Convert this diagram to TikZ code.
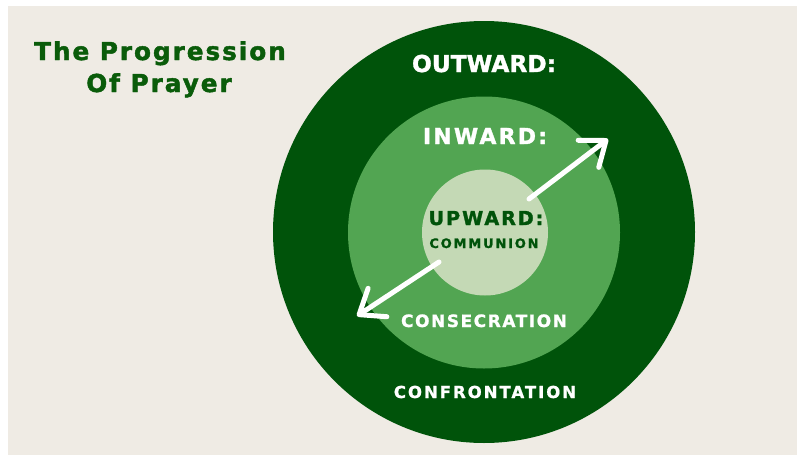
\documentclass[tikz,border=0pt]{standalone}
\usepackage{fontspec}
\setmainfont{DejaVu Sans}[BoldFeatures={FakeBold=1.5}]
\newfontfamily\titlefont{DejaVu Sans}[LetterSpace=8, BoldFeatures={FakeBold=1.8}]
\newfontfamily\capsfont{DejaVu Sans}[LetterSpace=10, BoldFeatures={FakeBold=1.5}]
\newfontfamily\smallcapsfont{DejaVu Sans}[LetterSpace=9, BoldFeatures={FakeBold=1.2}]
\newfontfamily\confrontfont{DejaVu Sans}[LetterSpace=12, BoldFeatures={FakeBold=1.2}]
\newfontfamily\widefont{DejaVu Sans}[LetterSpace=14, BoldFeatures={FakeBold=1.2}]
\usetikzlibrary{arrows.meta}
\definecolor{bg}{HTML}{EFEBE4}
\definecolor{dkgreen}{HTML}{00530A}
\definecolor{mdgreen}{HTML}{52A552}
\definecolor{ltgreen}{HTML}{C4D9B5}
\definecolor{titlegreen}{HTML}{0A5C0A}
\tikzset{
  lbl/.style={anchor=base, inner sep=0pt, text=white},
  arrowline/.style={draw=white, line width=5pt, line cap=round,
    -{Straight Barb[round, length=22pt, width=34pt]}},
}
\begin{document}
\begin{tikzpicture}[x=1pt, y=-1pt]
\useasboundingbox (0,0) rectangle (798,455);
\fill[white] (0,0) rectangle (798,455);
\fill[bg] (8,6) rectangle (797,455);
% circles
\fill[dkgreen] (484,232) circle[radius=211pt];
\fill[mdgreen] (484,232.5) circle[radius=136pt];
\fill[ltgreen] (485,232.5) circle[radius=63pt];
% title
\node[lbl, text=titlegreen, font=\titlefont\bfseries\fontsize{24.7}{30}\selectfont] (t1) at (160,60) {The Progression};
\node[lbl, text=titlegreen, font=\titlefont\bfseries\fontsize{24.7}{30}\selectfont] (t2) at (159,92) {Of Prayer};
% labels
\node[lbl, font=\bfseries\fontsize{23.3}{28}\selectfont] (out) at (484,72) {OUTWARD:};
\node[lbl, font=\capsfont\bfseries\fontsize{22}{26}\selectfont] (inw) at (485,144) {INWARD:};
\node[lbl, text=dkgreen, font=\capsfont\bfseries\fontsize{19.2}{23}\selectfont] (up) at (486,225) {UPWARD:};
\node[lbl, text=dkgreen, font=\widefont\bfseries\fontsize{13}{15}\selectfont] (comm) at (484,248) {COMMUNION};
\node[lbl, font=\smallcapsfont\bfseries\fontsize{17}{20}\selectfont] (cons) at (484,327) {CONSECRATION};
\node[lbl, font=\confrontfont\bfseries\fontsize{16.5}{20}\selectfont] (conf) at (485,398) {CONFRONTATION};
% arrows
\coordinate (a1s) at (529,199);
\coordinate (a1t) at (608,139);
\coordinate (a2s) at (439,262);
\coordinate (a2t) at (357,316);
\draw[arrowline] (a1s) -- (a1t);
\draw[arrowline] (a2s) -- (a2t);
\end{tikzpicture}
\end{document}
